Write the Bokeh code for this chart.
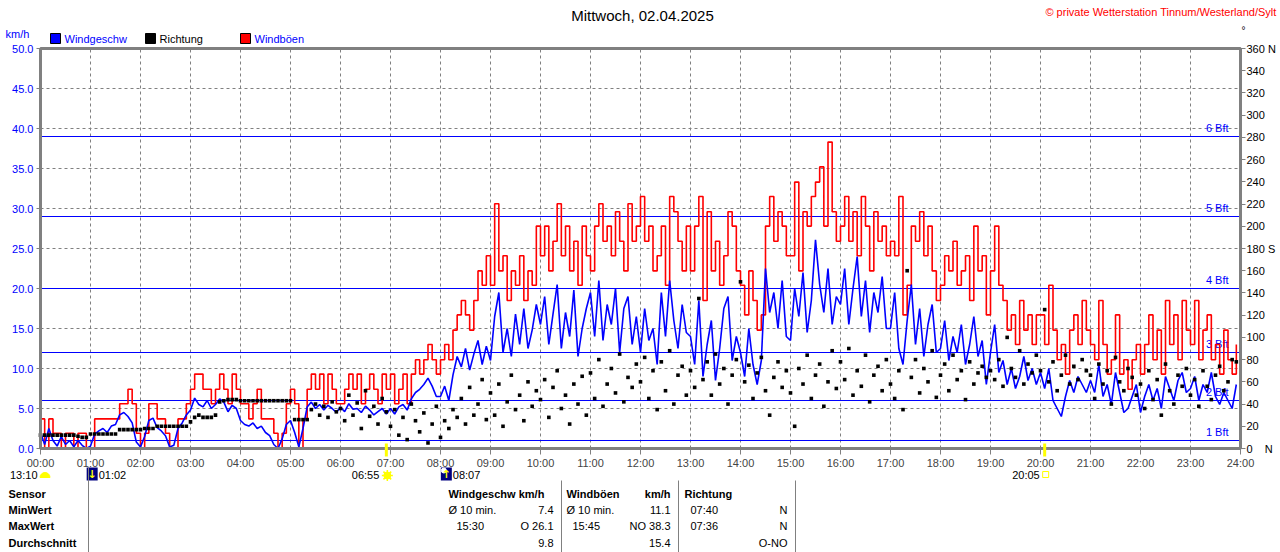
import numpy as np
from bokeh.core.properties import value
from bokeh.embed import file_html
from bokeh.models import ColumnDataSource, FixedTicker, LinearAxis, PrintfTickFormatter, Range1d
from bokeh.plotting import figure
from bokeh.resources import INLINE

FONT = "Liberation Sans"
GREY = "#808080"
BLUE = "#0000ff"
RED = "#ff0000"
NAVY = "#000080"
YELLOW = "#ffff00"

# Messwerte im 5-Minuten-Raster, 00:00 .. 23:55 (12 Werte je Stunde)
speed = [
    2.0, 0.5, 2.5, 1.0, 0.3, 1.5, 0.5, 1.0, 0.2, 1.0, 0.4, 0.0,
    0.3, 1.8, 2.2, 2.5, 2.0, 2.8, 3.0, 4.2, 4.5, 4.0, 3.2, 0.8,
    0.2, 1.5, 3.5, 3.8, 2.6, 2.2, 1.6, 0.2, 0.4, 2.5, 3.2, 4.2,
    4.8, 6.3, 5.5, 5.2, 6.0, 5.0, 5.5, 6.2, 5.8, 4.6, 5.4, 5.0,
    3.5, 3.0, 2.8, 3.2, 2.5, 2.8, 2.0, 1.6, 0.5, 0.0, 1.2, 3.0,
    3.5, 2.0, 0.2, 2.5, 5.2, 5.8, 5.0, 5.5, 4.8, 5.4, 5.0, 4.5,
    5.2, 4.6, 5.6, 4.9, 5.0, 4.5, 5.3, 4.8, 4.2, 4.6, 5.0, 4.3,
    5.0, 4.3, 5.2, 5.5, 4.8, 6.2, 7.0, 7.4, 8.0, 8.8, 7.8, 6.5,
    6.5, 7.8, 6.0, 9.2, 11.5, 10.2, 12.5, 9.8, 11.8, 13.5, 10.5, 12.8,
    11.0, 16.5, 19.5, 12.0, 15.0, 11.5, 16.8, 13.0, 17.5, 12.5, 14.8, 18.0,
    15.5, 19.0, 13.0, 16.8, 20.5, 12.5, 17.0, 14.0, 19.8, 11.5, 15.0, 17.5,
    19.5, 14.0, 21.0, 13.5, 18.0, 15.5, 20.0, 12.0, 17.5, 19.0, 13.0, 16.5,
    12.0, 17.5, 13.5, 15.0, 10.5, 19.5, 14.0, 21.0, 16.0, 12.5, 18.0, 14.5,
    14.0, 10.5, 18.5, 9.0, 13.0, 16.0, 8.5, 12.5, 17.5, 19.0, 11.0, 14.0,
    12.0, 9.0, 15.0, 10.5, 8.0, 11.0, 22.5, 17.0, 19.5, 15.0, 21.0, 14.0,
    13.5, 20.0, 16.5, 22.0, 14.5, 18.5, 26.1, 20.5, 17.0, 22.5, 15.5, 19.0,
    18.0, 22.5, 15.5, 20.0, 24.0, 16.5, 21.0, 14.5, 19.5, 17.0, 21.5, 15.0,
    15.0, 19.5, 12.5, 10.5, 16.0, 20.5, 13.0, 17.5, 11.5, 15.5, 18.0, 12.0,
    12.5, 16.0, 11.0, 14.0, 12.0, 15.5, 10.5, 13.0, 16.5, 11.5, 13.5, 8.0,
    12.0, 15.5, 9.5, 11.0, 8.0, 10.0, 7.5, 9.0, 11.5, 8.5, 10.0, 8.0,
    9.5, 7.5, 10.0, 6.0, 5.0, 4.0, 6.5, 8.5, 7.0, 9.0, 8.0, 7.0,
    8.5, 7.0, 10.5, 6.5, 8.0, 5.5, 9.5, 7.0, 4.5, 5.0, 6.5, 8.0,
    4.5, 6.5, 8.0, 6.0, 7.5, 5.0, 9.0, 7.5, 6.0, 8.5, 9.5, 7.0,
    7.5, 9.0, 6.0, 8.0, 7.0, 9.5, 6.5, 5.5, 7.0, 6.0, 5.0, 8.0,
]

gust = [
    3.7, 0.0, 3.7, 1.9, 1.9, 0.0, 1.9, 1.9, 0.0, 1.9, 1.9, 0.0,
    0.0, 3.7, 3.7, 3.7, 3.7, 3.7, 3.7, 5.6, 5.6, 7.4, 5.6, 1.9,
    0.0, 1.9, 5.6, 5.6, 3.7, 3.7, 1.9, 0.0, 0.0, 3.7, 3.7, 5.6,
    7.4, 9.3, 9.3, 7.4, 7.4, 5.6, 7.4, 9.3, 7.4, 5.6, 9.3, 7.4,
    5.6, 5.6, 3.7, 5.6, 7.4, 3.7, 3.7, 3.7, 1.9, 0.0, 1.9, 5.6,
    7.4, 5.6, 0.0, 3.7, 7.4, 9.3, 7.4, 9.3, 5.6, 9.3, 7.4, 5.6,
    5.6, 7.4, 9.3, 7.4, 9.3, 5.6, 7.4, 9.3, 7.4, 5.6, 9.3, 7.4,
    9.3, 5.6, 7.4, 9.3, 5.6, 9.3, 11.1, 9.3, 11.1, 13.0, 11.1, 9.3,
    11.1, 13.0, 11.1, 14.8, 16.7, 18.5, 16.7, 14.8, 18.5, 22.2, 20.4, 24.1,
    20.4, 30.6, 22.2, 24.1, 18.5, 22.2, 20.4, 24.1, 18.5, 22.2, 20.4, 27.8,
    24.1, 27.8, 22.2, 25.9, 30.6, 24.1, 27.8, 22.2, 25.9, 20.4, 27.8, 24.1,
    22.2, 27.8, 30.6, 25.9, 27.8, 24.1, 29.6, 25.9, 22.2, 30.6, 25.9, 27.8,
    31.5, 25.9, 27.8, 22.2, 24.1, 27.8, 20.4, 31.5, 29.6, 25.9, 22.2, 27.8,
    22.2, 27.8, 31.5, 18.5, 29.6, 22.2, 25.9, 20.4, 24.1, 29.6, 27.8, 22.2,
    20.4, 16.7, 22.2, 18.5, 14.8, 16.7, 27.8, 31.5, 25.9, 29.6, 27.8, 24.1,
    24.1, 33.3, 22.2, 29.6, 27.8, 31.5, 33.3, 35.2, 27.8, 38.3, 29.6, 25.9,
    27.8, 31.5, 25.9, 29.6, 24.1, 31.5, 27.8, 22.2, 29.6, 25.9, 27.8, 24.1,
    25.9, 24.1, 31.5, 16.7, 20.4, 27.8, 25.9, 29.6, 24.1, 27.8, 22.2, 18.5,
    20.4, 24.1, 22.2, 25.9, 20.4, 22.2, 24.1, 18.5, 27.8, 22.2, 24.1, 16.7,
    22.2, 27.8, 20.4, 18.5, 14.8, 16.7, 13.0, 18.5, 14.8, 16.7, 13.0, 16.7,
    16.7, 13.0, 20.4, 14.8, 11.1, 13.0, 9.3, 14.8, 16.7, 13.0, 18.5, 14.8,
    13.0, 11.1, 18.5, 13.0, 9.3, 11.1, 16.7, 9.3, 11.1, 7.4, 11.1, 13.0,
    9.3, 13.0, 16.7, 11.1, 14.8, 9.3, 18.5, 13.0, 16.7, 11.1, 18.5, 14.8,
    13.0, 18.5, 11.1, 14.8, 16.7, 11.1, 13.0, 9.3, 14.8, 11.1, 9.3, 13.0,
]

direction = [
    12, 12, 12, 12, 12, 12, 12, 12, 12, 11, 10, 10,
    13, 13, 13, 13, 13, 13, 13, 17, 17, 17, 17, 17,
    17, 18, 18, 18, 20, 20, 20, 20, 20, 20, 20, 20,
    24, 28, 30, 28, 28, 28, 30, 42, 43, 44, 44, 44,
    43, 43, 43, 43, 43, 43, 43, 43, 43, 43, 43, 43,
    43, 26, 26, 26, 26, 35, 40, 30, 38, 28, 42, 33,
    36, 25, 48, 30, 41, 18, 52, 29, 38, 22, 45, 33,
    20, 35, 12, 28, 8, 40, 25, 15, 32, 5, 22, 38,
    10, 25, 18, 35, 28, 45, 22, 55, 30, 40, 62, 26,
    50, 30, 58, 20, 42, 66, 35, 48, 25, 60, 38, 52,
    44, 62, 28, 55, 70, 36, 48, 22, 58, 40, 65, 30,
    68, 45, 80, 38, 58, 72, 50, 85, 42, 64, 55, 76,
    60, 82, 45, 70, 35, 78, 52, 88, 40, 66, 74, 48,
    70, 55, 135, 62, 78, 48, 85, 58, 72, 40, 66, 80,
    150, 60, 75, 45, 68, 82, 52, 30, 64, 78, 55, 70,
    50, 20, 72, 58, 84, 45, 66, 76, 38, 60, 88, 54,
    78, 62, 90, 48, 70, 56, 84, 42, 66, 74, 52, 80,
    58, 45, 70, 35, 160, 64, 80, 50, 72, 60, 88, 46,
    66, 76, 52, 84, 62, 70, 44, 78, 58, 68, 74, 64,
    70, 62, 80, 56, 100, 72, 64, 88, 58, 76, 68, 84,
    70, 125, 60, 78, 52, 66, 84, 58, 74, 62, 80, 70,
    66, 45, 76, 58, 70, 40, 82, 60, 52, 72, 64, 48,
    58, 36, 70, 44, 62, 30, 76, 52, 40, 66, 56, 72,
    48, 62, 38, 70, 56, 44, 66, 74, 52, 60, 80, 78,
]

hour_ticks = list(range(25))
speed_ticks = list(range(0, 51, 5))
dir_ticks = list(range(0, 361, 20))
dir_labels = {0: "0\u00a0\u00a0\u00a0\u00a0N", 180: "180 S", 360: "360 N"}

bft_levels = [1, 6, 12, 20, 29, 39]
bft_labels = ["1 Bft", "2 Bft", "3 Bft", "4 Bft", "5 Bft", "6 Bft"]

# Sonne / Mond
moon_prev = "13:10"
moon_set = "01:02"
sun_rise = "06:55"
moon_rise = "08:07"
sun_set = "20:05"

table_rows = ["Sensor", "MinWert", "MaxWert", "Durchschnitt"]
speed_stats = ["Ø 10 min.", "7.4", "15:30", "O 26.1", "9.8"]
gust_stats = ["Ø 10 min.", "11.1", "15:45", "NO 38.3", "15.4"]
dir_stats = ["07:40", "N", "07:36", "N", "O-NO"]


def hx(px):
    """Bildpunkt -> Stunden"""
    return (px - 40) / 50


def ky(py):
    """Bildpunkt -> km/h"""
    return (448 - py) / 8


def hours_of(hhmm):
    h, m = hhmm.split(":")
    return int(h) + int(m) / 60


def text(p, px, py, s, color="black", size="11px", align="left", bold=False, font=FONT):
    p.text(x=[hx(px)], y=[ky(py)], text=[s], text_color=color, text_font=value(font),
           text_font_size=size, text_align=align, text_baseline="middle",
           text_font_style="bold" if bold else "normal")


def rect(p, x0, x1, y0, y1, fill=None, line=None, width=1.0):
    p.quad(left=[hx(x0)], right=[hx(x1)], top=[ky(y0)], bottom=[ky(y1)],
           fill_color=fill, line_color=line, line_width=width)


t = np.arange(len(speed)) * 5 / 60
source = ColumnDataSource(data=dict(t=t, speed=speed, gust=gust, direction=direction))

# Der Zeichenbereich fuellt die ganze Flaeche, die Achsen sitzen fest im Inneren
p = figure(width=1280, height=552, x_range=Range1d(hx(0), hx(1280)), y_range=Range1d(ky(552), ky(0)),
           output_backend="svg", toolbar_location=None, title=None,
           x_axis_location=None, y_axis_location=None, min_border=0)
p.extra_y_ranges = {"dir": Range1d(ky(552) * 7.2, ky(0) * 7.2)}
p.outline_line_color = None
p.background_fill_color = "white"
p.border_fill_color = "white"
for g in p.grid:
    g.visible = False

# Raster
p.segment(x0=hour_ticks, y0=[0] * len(hour_ticks), x1=hour_ticks, y1=[50] * len(hour_ticks),
          line_color=GREY, line_dash="3 3", line_width=1)
p.segment(x0=[0] * len(speed_ticks), y0=speed_ticks, x1=[24] * len(speed_ticks), y1=speed_ticks,
          line_color=GREY, line_dash="3 3", line_width=1)

# Beaufort-Linien
p.segment(x0=[0] * len(bft_levels), y0=bft_levels, x1=[24] * len(bft_levels), y1=bft_levels,
          line_color=BLUE, line_width=1.2)
p.text(x=[hx(1228)] * len(bft_levels), y=[lvl + 1.1 for lvl in bft_levels], text=bft_labels,
       text_font=value(FONT), text_font_size="11px", text_color=BLUE,
       text_align="right", text_baseline="middle")

p.step("t", "gust", source=source, mode="after", line_color=RED, line_width=1.6)
p.line("t", "speed", source=source, line_color=BLUE, line_width=1.6)
p.scatter("t", "direction", source=source, y_range_name="dir", marker="square", size=3.6,
          fill_color="black", line_color=None)

# Rahmen
p.quad(left=[0], right=[24], bottom=[0], top=[50], fill_color=None, line_color=GREY, line_width=3)

axis_style = dict(axis_line_color=None, major_tick_line_color=GREY, major_tick_in=0,
                  minor_tick_line_color=None, major_label_text_font=FONT,
                  major_label_text_font_size="11px")

xaxis = LinearAxis(fixed_location=0, bounds=(0, 24), ticker=FixedTicker(ticks=hour_ticks),
                   major_label_overrides={h: f"{h:02d}:00" for h in hour_ticks},
                   major_tick_out=6, major_label_standoff=2, **axis_style)
p.add_layout(xaxis, "below")

yleft = LinearAxis(fixed_location=0, bounds=(0, 50), ticker=FixedTicker(ticks=speed_ticks),
                   formatter=PrintfTickFormatter(format="%.1f"),
                   major_tick_out=4, major_label_standoff=3, major_label_text_color=BLUE, **axis_style)
p.add_layout(yleft, "left")

yright = LinearAxis(y_range_name="dir", fixed_location=24, bounds=(0, 360),
                    ticker=FixedTicker(ticks=dir_ticks), major_label_overrides=dir_labels,
                    major_tick_out=5, major_label_standoff=1, major_label_text_color="black",
                    **axis_style)
p.add_layout(yright, "right")

# Kopf
text(p, 642, 15, "Mittwoch, 02.04.2025", size="15px", align="center")
text(p, 1276, 11, "© private Wetterstation Tinnum/Westerland/Sylt", color=RED, align="right")
text(p, 1243, 30, "°", size="10px", align="center")
text(p, 5, 33, "km/h", color=BLUE)

# Legende
legend = [("Windgeschw", BLUE, BLUE, 50), ("Richtung", "black", "black", 145), ("Windböen", RED, BLUE, 240)]
for name, fill, tcol, x0 in legend:
    rect(p, x0, x0 + 10, 33, 43, fill=fill, line="black")
    text(p, x0 + 14, 38, name, color=tcol)

# Sonnen- und Mondzeiten unter der Zeitachse
for hhmm in (sun_rise, sun_set):
    p.segment(x0=[hours_of(hhmm)], y0=[ky(443)], x1=[hours_of(hhmm)], y1=[ky(456)],
              line_color=YELLOW, line_width=3)

text(p, 37, 474, moon_prev, align="right")
p.wedge(x=[hx(44.5)], y=[ky(477)], radius=5, radius_units="screen",
        start_angle=0, end_angle=np.pi, color=YELLOW)

for hhmm, arrow in ((moon_set, "↓"), (moon_rise, "↑")):
    xm = 40 + hours_of(hhmm) * 50
    rect(p, xm - 5.5, xm + 5.5, 467, 480, fill=NAVY)
    if arrow == "↑":
        p.scatter(x=[hx(xm - 2.5)], y=[ky(470)], size=5, marker="circle", color="white")
    text(p, xm, 474, arrow, color=YELLOW, size="11px", align="center", bold=True, font="DejaVu Sans")
    text(p, xm + 6.5, 474, hhmm)

xs = 40 + hours_of(sun_rise) * 50
text(p, xs - 7, 474, sun_rise, align="right")
p.scatter(x=[hx(xs + 1)], y=[ky(475)], size=11, marker="asterisk", line_color=YELLOW, line_width=1.5)
p.scatter(x=[hx(xs + 1)], y=[ky(475)], size=7, marker="circle", color=YELLOW)

xs = 40 + hours_of(sun_set) * 50
text(p, xs - 5, 474, sun_set, align="right")
p.scatter(x=[hx(xs + 1)], y=[ky(474)], size=6, marker="square", fill_color=None, line_color=YELLOW)

# Tabelle
for x_sep, top in ((88, 467), (561, 480), (678, 480), (795, 480)):
    p.segment(x0=[hx(x_sep)], y0=[ky(top)], x1=[hx(x_sep)], y1=[ky(552)], line_color=GREY, line_width=1)

rows_y = [493, 509, 525, 542]
for name, y in zip(table_rows, rows_y):
    text(p, 8, y, name, bold=True)

text(p, 448, 493, "Windgeschw km/h", bold=True)
text(p, 448, 509, speed_stats[0])
text(p, 553, 509, speed_stats[1], align="right")
text(p, 456, 525, speed_stats[2])
text(p, 553, 525, speed_stats[3], align="right")
text(p, 553, 542, speed_stats[4], align="right")

text(p, 566, 493, "Windböen", bold=True)
text(p, 670, 493, "km/h", bold=True, align="right")
text(p, 566, 509, gust_stats[0])
text(p, 670, 509, gust_stats[1], align="right")
text(p, 572, 525, gust_stats[2])
text(p, 670, 525, gust_stats[3], align="right")
text(p, 670, 542, gust_stats[4], align="right")

text(p, 684, 493, "Richtung", bold=True)
text(p, 690, 509, dir_stats[0])
text(p, 787, 509, dir_stats[1], align="right")
text(p, 690, 525, dir_stats[2])
text(p, 787, 525, dir_stats[3], align="right")
text(p, 787, 542, dir_stats[4], align="right")

open("out.html", "w").write(file_html(p, INLINE))
